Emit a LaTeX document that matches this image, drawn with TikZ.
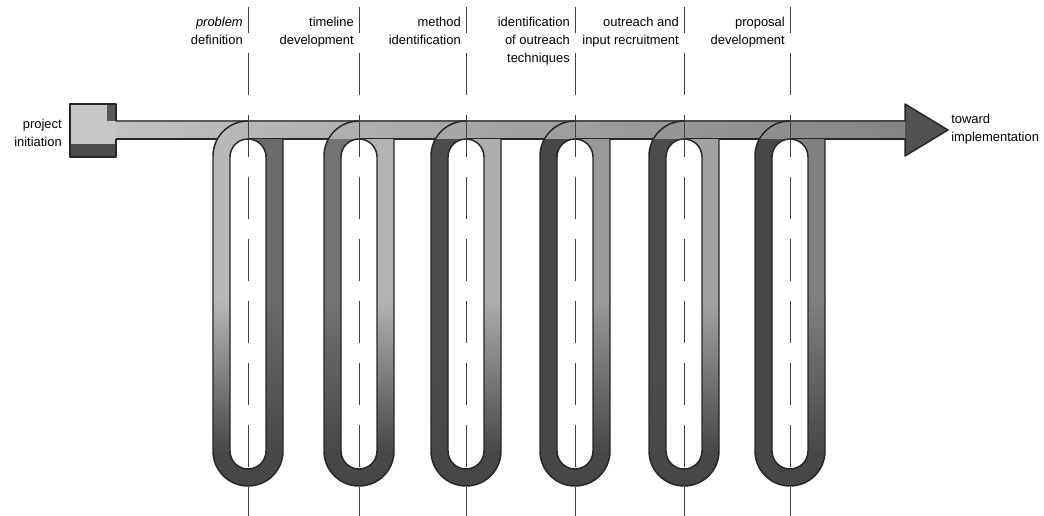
\documentclass[tikz,border=0pt]{standalone}
\usepackage{fontspec}
\setmainfont{Liberation Sans}
\usepackage{tikz}
\newcommand{\ringpath}[1]{%
    (#1+35,139) -- (#1+35,451) arc[start angle=0, end angle=180, radius=35]
    -- (#1-35,156) arc[start angle=180, end angle=270, radius=35] -- (#1,139) -- cycle
    (#1+18,157) -- (#1+18,451) arc[start angle=0, end angle=180, radius=18]
    -- (#1-18,157) arc[start angle=180, end angle=360, radius=18] -- cycle}

\begin{document}
\begin{tikzpicture}[
    x=0.75pt, y=-0.75pt,
    outline/.style={draw=black!85, line width=1.1pt, line join=round},
    phase/.style={font=\fontsize{9.7}{13.5}\selectfont, inner sep=0pt},
    guide/.style={draw=black!75, line width=0.6pt, dash pattern=on 31.5pt off 15pt, dash phase=12pt}
]
    \useasboundingbox (0,0) rectangle (1044,516);

    \shade[left color=black!24, right color=black!48] (116,121) rectangle (906,139);
    \draw[outline] (116,139) -- (906,139);

    \foreach \cx/\lc/\rc [evaluate=\cx as \bc using {24+24*(\cx-116)/790}]
        in {248/28/58, 359/55/30, 466/70/32, 575/72/40, 684/70/36, 790/72/50} {
        \begin{scope}[even odd rule]
            \clip \ringpath{\cx};
            \fill[black!\lc] (\cx-36,139) rectangle (\cx,301);
            \shade[top color=black!\lc, bottom color=black!72] (\cx-36,300) rectangle (\cx,452);
            \fill[black!\rc] (\cx,139) rectangle (\cx+36,301);
            \shade[top color=black!\rc, bottom color=black!72] (\cx,300) rectangle (\cx+36,452);
            \fill[black!72] (\cx-36,451) rectangle (\cx+36,488);
            \fill[black!\bc] (\cx-36,119) rectangle (\cx+1,139.5);
        \end{scope}
        \draw[outline] (\cx+35,139) -- (\cx+35,451) arc[start angle=0, end angle=180, radius=35]
            -- (\cx-35,156) arc[start angle=180, end angle=270, radius=35];
        \draw[outline] (\cx+18,157) -- (\cx+18,451) arc[start angle=0, end angle=180, radius=18]
            -- (\cx-18,157) arc[start angle=180, end angle=360, radius=18] -- cycle;
    }

    \fill[black!22] (70,104) rectangle (116,157);
    \fill[black!70] (70,144) rectangle (116,157);
    \fill[black!65] (107,104) rectangle (116,121);
    \draw[outline] (116,121) -- (116,104) -- (70,104) -- (70,157) -- (116,157) -- (116,139);

    \fill[black!68] (905,104) -- (948,130) -- (905,156) -- cycle;
    \draw[outline] (116,121) -- (905,121) -- (905,104) -- (948,130) -- (905,156) -- (905,139);

    \node[phase, anchor=east, align=right] (start) at (62,133) {project\\initiation};
    \node[phase, anchor=west, align=left] (goal) at (951,129) {toward\\implementation};

    \foreach \cx/\txt [count=\i] in {248/{\textit{problem}\\definition}, 359/{timeline\\development},
        466/{method\\identification}, 575/{identification\\of outreach\\techniques},
        684/{outreach and\\input recruitment}, 790/{proposal\\development}} {
        \node[phase, anchor=north east, align=right] (label\i) at (\cx-5,17) {\txt};
        \coordinate (top\i) at (\cx,7);
        \coordinate (foot\i) at (\cx,516);
        \draw[guide] (top\i) -- (foot\i);
    }
\end{tikzpicture}
\end{document}
